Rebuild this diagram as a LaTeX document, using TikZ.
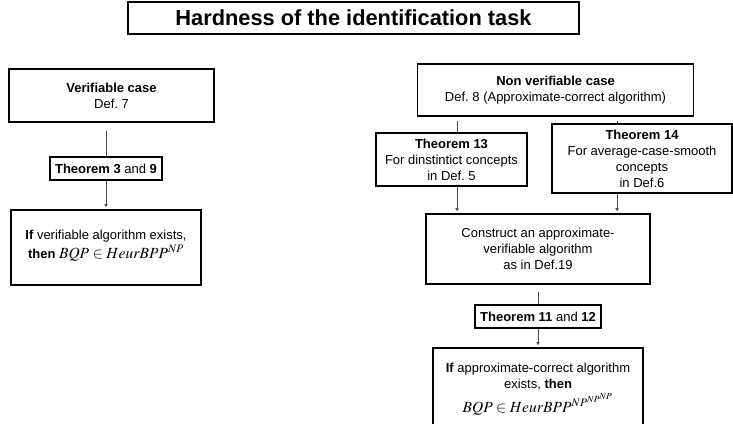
\documentclass[tikz,border=0pt]{standalone}
\usepackage{mathptmx}
\usepackage[no-math]{fontspec}
\setmainfont{Liberation Sans}
\usetikzlibrary{arrows.meta}
\newcommand{\mymath}[1]{{\fontsize{15.5}{16}\selectfont$#1$}}
\frenchspacing
\begin{document}
\begin{tikzpicture}[x=1pt,y=-1pt,
  box/.style={draw=black,line width=1.6pt,align=center,inner sep=0pt,font=\fontsize{13}{16}\selectfont\frenchspacing},
  conn/.style={draw=black!70,line width=0.7pt},
  arr/.style={conn,-{Triangle[length=3pt,width=3pt]},shorten >=2pt}
]
\useasboundingbox (0,0) rectangle (733,423);
\node[draw,line width=1.1pt,minimum width=451pt,minimum height=32pt,inner sep=0pt,font=\bfseries\fontsize{21.8}{24}\selectfont] (title) at (353.5,18) {Hardness of the identification task};
% left branch
\node[box,minimum width=205pt,minimum height=53pt] (ver) at (111.5,95.5) {\textbf{Verifiable case}\\Def. 7};
\node[box,minimum width=112pt,minimum height=23pt] (t3) at (106,168.5) {\textbf{Theorem 3} and \textbf{9}};
\node[box,minimum width=190pt,minimum height=75pt] (vres) at (106,247.5) {\textbf{If} verifiable algorithm exists,\\[3pt]\textbf{then} \mymath{BQP\in HeurBPP^{NP}}\rule[-7pt]{0pt}{0pt}};
% right branch
\node[box,minimum width=276pt,minimum height=52pt] (nv) at (555.5,90) {\textbf{Non verifiable case}\\Def. 8 (Approximate-correct algorithm)};
\node[box,minimum width=151pt,minimum height=53pt] (t13) at (451.5,159.5) {\textbf{Theorem 13}\\For dinstintict concepts\\in Def. 5};
\node[box,minimum width=180pt,minimum height=69pt] (t14) at (642,158.5) {\textbf{Theorem 14}\\For average-case-smooth\\concepts\\in Def.6};
\node[box,minimum width=224pt,minimum height=70pt] (con) at (538,249) {Construct an approximate-\\verifiable algorithm\\as in Def.19};
\node[box,minimum width=126pt,minimum height=23pt] (t11) at (538,316.5) {\textbf{Theorem 11} and \textbf{12}};
\node[box,minimum width=210pt,minimum height=82pt] (fres) at (538,389) {\textbf{If} approximate-correct algorithm\\exists, \textbf{then}\\[2pt]\mymath{BQP\in HeurBPP^{NP^{NP^{NP}}}}};
% connectors
\coordinate (a13) at ([xshift=5.5pt]t13.north);
\coordinate (b13) at ([xshift=5.5pt]t13.south);
\coordinate (a14) at ([xshift=-25pt]t14.north);
\coordinate (b14) at ([xshift=-25pt]t14.south);
\draw[conn,shorten <=8pt] (ver.south -| t3.north) -- (t3.north);
\draw[arr] (t3.south) -- (vres.north);
\draw[conn,shorten <=4pt] (nv.south -| a13) -- (a13);
\draw[conn,shorten <=4pt] (nv.south -| a14) -- (a14);
\draw[arr] (b13) -- (b13 |- con.north);
\draw[arr] (b14) -- (b14 |- con.north);
\draw[conn,shorten <=7pt] (con.south) -- (t11.north);
\draw[arr] (t11.south) -- (fres.north);
\end{tikzpicture}
\end{document}
